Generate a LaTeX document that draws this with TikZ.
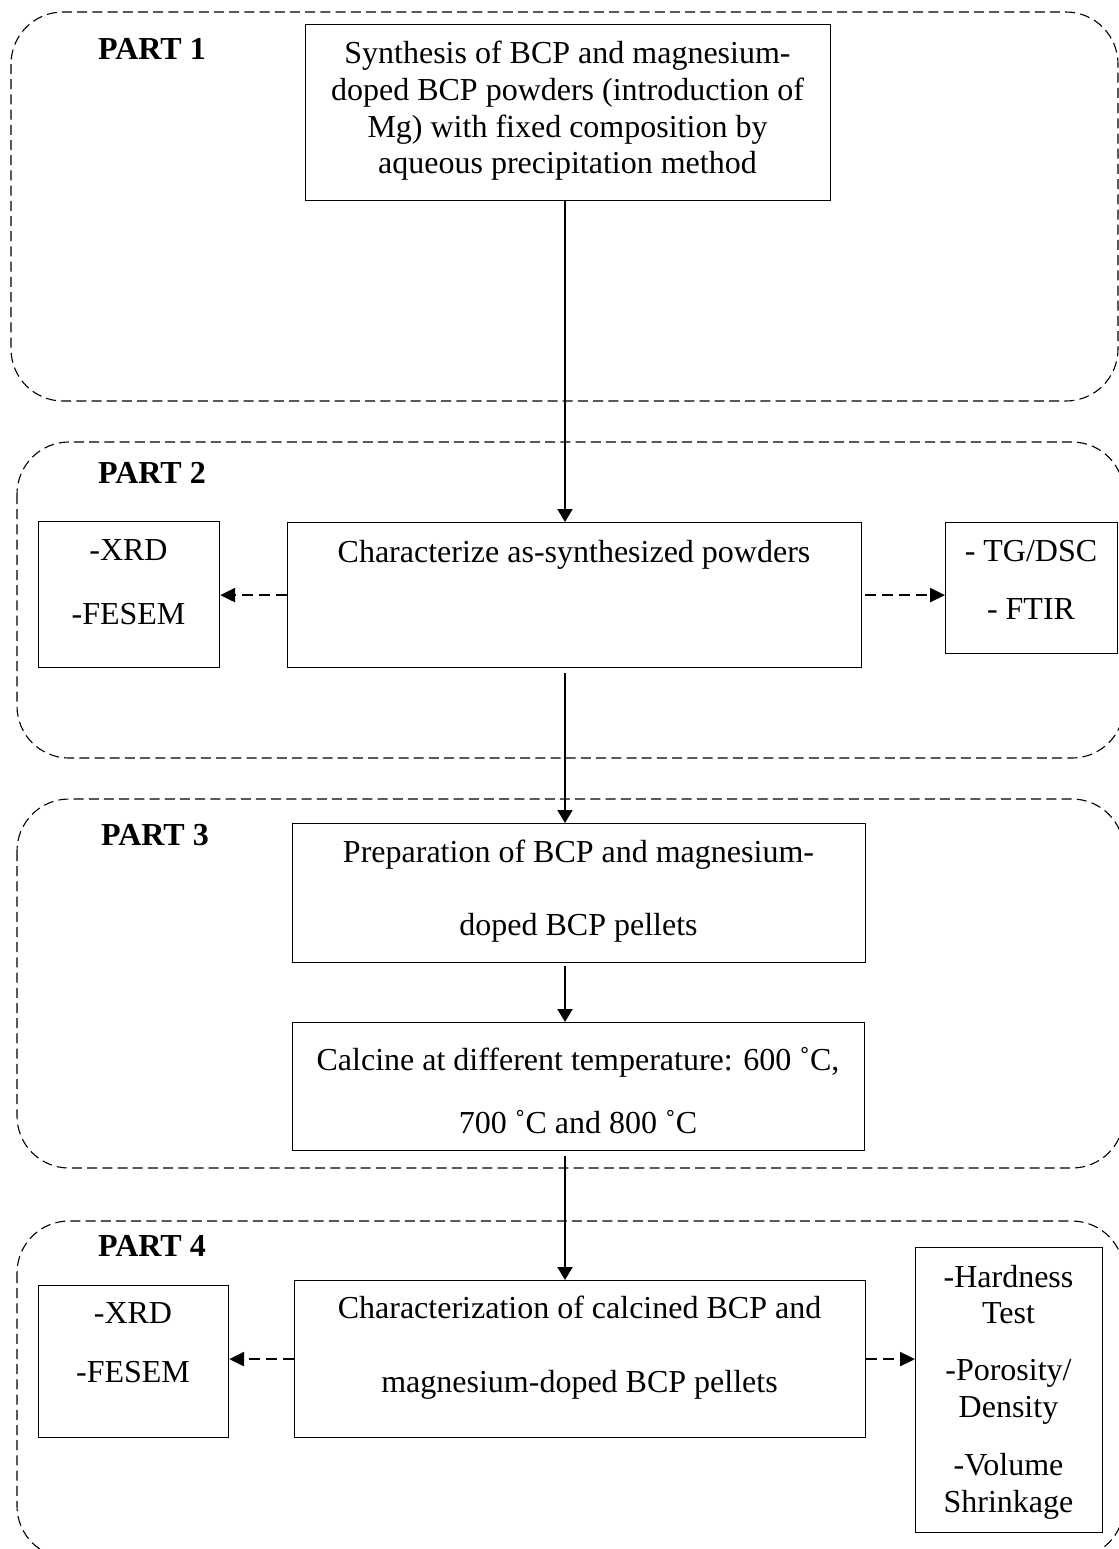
\documentclass[tikz,border=0pt]{standalone}
\usepackage{fontspec}
\setmainfont{Liberation Serif}
\usetikzlibrary{arrows.meta}
\begin{document}
\begin{tikzpicture}[x=0.5pt,y=-0.5pt,
  box/.style={draw, line width=0.6pt, inner sep=0pt, anchor=north west},
  txt/.style={anchor=base, inner sep=0pt, font=\fontsize{16}{19}\selectfont},
  ptitle/.style={anchor=base, inner sep=0pt, font=\fontsize{16}{19}\selectfont\bfseries},
  cont/.style={draw, line width=0.55pt, dash pattern=on 5pt off 2.6pt, rounded corners=26pt},
  flow/.style={line width=1pt, -{Triangle[length=6.5pt,width=7.5pt]}},
  side/.style={line width=1.2pt, dash pattern=on 5.5pt off 3pt, -{Triangle[length=7.5pt,width=7pt]}}
]
\useasboundingbox (0,0) rectangle (1119,1549);
\clip (0,0) rectangle (1119,1549);
\newcommand\bx[5]{\node[box, minimum width={(#4-#2)*0.5pt}, minimum height={(#5-#3)*0.5pt}] (#1) at (#2,#3) {};}

% containers
\draw[cont] (11,12) rectangle (1118,401);
\draw[cont] (17,442) rectangle (1124,758);
\draw[cont] (17,799) rectangle (1124,1168);
\draw[cont] (17,1221) rectangle (1124,1558);

% part titles
\node[ptitle] (p1) at (152,59) {PART 1};
\node[ptitle] (p2) at (152,483) {PART 2};
\node[ptitle] (p3) at (155,845) {PART 3};
\node[ptitle] (p4) at (152,1256) {PART 4};

% boxes
\bx{syn}{305}{24}{830}{200}
\bx{xrdA}{38}{521}{219}{667}
\bx{char}{287}{522}{861}{667}
\bx{tg}{945}{522}{1117}{653}
\bx{prep}{292}{823}{865}{962}
\bx{calc}{292}{1022}{864}{1150}
\bx{xrdB}{38}{1285}{228}{1437}
\bx{charB}{294}{1280}{865}{1437}
\bx{hard}{915}{1247}{1102}{1532}

% texts
\node[txt] (s1) at (567.5,63) {Synthesis of BCP and magnesium-};
\node[txt] (s2) at (567.5,100) {doped BCP powders (introduction of};
\node[txt] (s3) at (567.5,137) {Mg) with fixed composition by};
\node[txt] (s4) at (567.5,173) {aqueous precipitation method};

\node[txt] (xa1) at (128.5,560) {-XRD};
\node[txt] (xa2) at (128.5,624) {-FESEM};
\node[txt] (c1) at (574,562) {Characterize as-synthesized powders};
\node[txt] (g1) at (1031,561) {- TG/DSC};
\node[txt] (g2) at (1031,619) {- FTIR};

\node[txt] (r1) at (578.5,862) {Preparation of BCP and magnesium-};
\node[txt] (r2) at (578.5,935) {doped BCP pellets};
\node[txt] (k1) at (578,1070) {Calcine at different temperature: 600 ˚C,};
\node[txt] (k2) at (578,1133) {700 ˚C and 800 ˚C};

\node[txt] (xb1) at (133,1323) {-XRD};
\node[txt] (xb2) at (133,1382) {-FESEM};
\node[txt] (d1) at (579.5,1318) {Characterization of calcined BCP and};
\node[txt] (d2) at (579.5,1392) {magnesium-doped BCP pellets};
\node[txt] (h1) at (1008.5,1287) {-Hardness};
\node[txt] (h2) at (1008.5,1323) {Test};
\node[txt] (h3) at (1008.5,1380) {-Porosity/};
\node[txt] (h4) at (1008.5,1417) {Density};
\node[txt] (h5) at (1008.5,1475) {-Volume};
\node[txt] (h6) at (1008.5,1512) {Shrinkage};

% connectors
\coordinate (ax) at (565,0);
\draw[flow] (syn.south -| ax) -- (char.north -| ax);
\draw[flow, shorten <=2.5pt] (char.south -| ax) -- (prep.north -| ax);
\draw[flow, shorten <=1.5pt] (prep.south -| ax) -- (calc.north -| ax);
\draw[flow, shorten <=2.5pt] (calc.south -| ax) -- (charB.north -| ax);

\draw[side] (char.west) -- (char.west -| xrdA.east);
\draw[side, shorten <=1.5pt] (char.east) -- (char.east -| tg.west);
\draw[side] (charB.west) -- (charB.west -| xrdB.east);
\draw[side] (charB.east) -- (charB.east -| hard.west);
\end{tikzpicture}
\end{document}
